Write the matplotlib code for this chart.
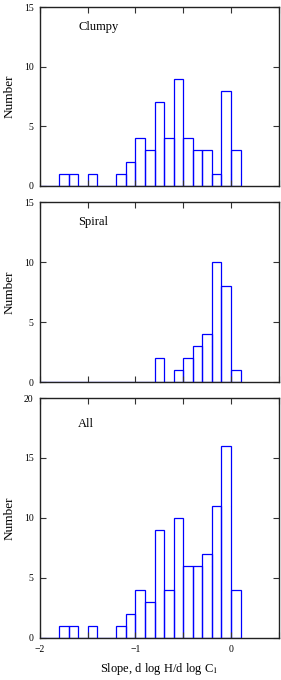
from matplotlib import pyplot as plt
from matplotlib.ticker import MultipleLocator
import numpy as np

# bin left edges (width 0.1) from -2.0 to 0.0
edges = np.round(np.arange(-2.0, 0.05, 0.1), 2)
clumpy = [0, 0, 1, 1, 0, 1, 0, 0, 1, 2, 4, 3, 7, 4, 9, 4, 3, 3, 1, 8, 3]
spiral = [0, 0, 0, 0, 0, 0, 0, 0, 0, 0, 0, 0, 2, 0, 1, 2, 3, 4, 10, 8, 1]
allgal = [0, 0, 1, 1, 0, 1, 0, 0, 1, 2, 4, 3, 9, 4, 10, 6, 6, 7, 11, 16, 4]

labels = ["Clumpy", "Spiral", "All"]
ymaxes = [15, 15, 20]

plt.rcParams['font.family'] = ['Liberation Serif', 'DejaVu Serif']
plt.rcParams['mathtext.fontset'] = 'stix'

fig = plt.figure(figsize=(2.81, 6.8), dpi=100)
boxes = [(0.1423, 0.7265, 0.8497, 0.2632),
         (0.1423, 0.4382, 0.8497, 0.2647),
         (0.1423, 0.0618, 0.8497, 0.3529)]

for box, data, lab, ymax in zip(boxes, [clumpy, spiral, allgal], labels, ymaxes):
    ax = fig.add_axes(box)
    ax.bar(edges, data, width=0.1, align='edge', fill=False,
           edgecolor='#0000ff', linewidth=0.9)
    ax.set_xlim(-2, 0.5)
    ax.set_ylim(0, ymax)
    ax.xaxis.set_major_locator(MultipleLocator(1))
    ax.xaxis.set_minor_locator(MultipleLocator(0.5))
    ax.yaxis.set_major_locator(MultipleLocator(5))
    ax.tick_params(which='both', direction='in', top=True, right=True,
                   labelsize=7, length=4, width=0.8, color='#333333')
    ax.tick_params(axis='y', pad=4.5)
    ax.tick_params(axis='x', pad=5)
    for s in ax.spines.values():
        s.set_linewidth(1.0)
        s.set_color('#222222')
    ylab = ax.set_ylabel("Number", fontsize=9.5, va='center')
    ax.yaxis.set_label_coords(-0.127, 0.5)
    ax.text(0.16, 0.89, lab, transform=ax.transAxes, fontsize=9,
            ha='left', va='center')
    if lab != "All":
        ax.tick_params(labelbottom=False)
    else:
        ax.set_xlabel(r"Slope, d log H/d log C$_{\rm 1}$", fontsize=9, labelpad=5)

plt.savefig('out.png', dpi=100)
